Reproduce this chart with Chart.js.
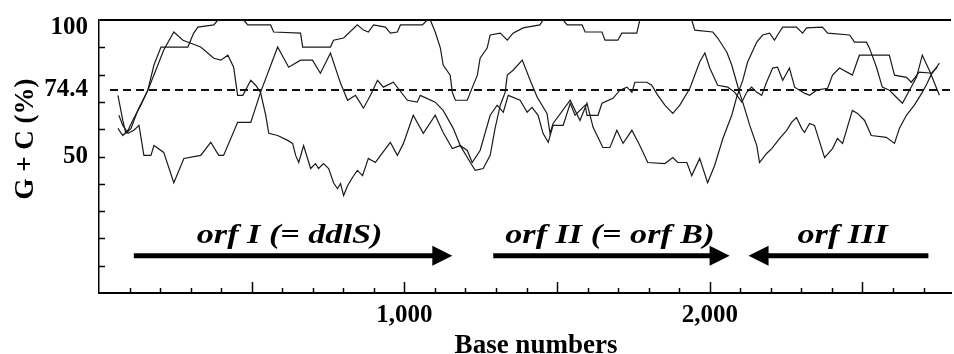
<!DOCTYPE html>
<html><head><meta charset="utf-8">
<script src="https://cdn.jsdelivr.net/npm/chart.js@4.4.1/dist/chart.umd.min.js"></script>
<style>html,body{margin:0;padding:0;background:#fff;}#wrap{width:954px;height:354px;}</style>
</head><body><div id="wrap"><canvas id="c" width="954" height="354"></canvas></div>
<script>
// ---- data (base position, G+C %) ----
const pos1 = [62,78,95,114,137,160,180,203,291,310,324,376,389,474,487,562,572,660,667,758,768,801,846,866,882,899,938,954,977,987,1059,1075,1085,1101,1118,1127,1150,1157,1167,1206,1216,1239,1248,1271,1281,1314,1337,1356,1389,1402,1444,1454,1520,1533,1582,1592,1647,1657,1699,1712,1761,1771,1941,1951,2010,2026,2056,2072,2088,2098,2108,2131,2154,2163,2186,2203,2229,2252,2268,2284,2301,2310,2327,2343,2376,2402,2418,2435,2467,2484,2507,2529,2578,2605,2621,2644,2670,2696,2712,2729,2745];
const gc1 = [60.3,57.7,59.6,64.0,68.8,74.3,83.5,90.1,90.1,95.2,97.4,98.2,100,100,98.2,98.2,95.6,95.2,90.1,90.1,92.6,93.4,98.2,96.3,95.6,98.2,97.4,95.2,95.6,98.2,98.2,100,100,95.6,89.7,83.5,79.8,73.5,70.6,70.6,73.5,79.8,86.0,89.7,94.5,95.2,92.6,95.2,97.1,97.4,98.2,100,100,98.2,98.2,95.6,95.6,92.6,92.6,95.2,95.2,100,100,96.3,95.6,93.4,88.2,83.5,77.2,73.2,69.9,61.4,54.0,47.8,51.1,52.9,56.6,59.6,62.5,64.3,60.3,58.8,62.1,61.4,49.6,52.9,56.6,54.8,66.9,65.8,63.2,57.7,57.0,54.8,60.3,65.1,68.8,73.5,76.8,80.9,82.7];

const pos2 = [62,78,88,105,127,160,186,212,245,275,301,333,376,399,422,441,454,471,497,513,529,546,556,585,618,634,644,654,670,693,709,719,735,752,768,781,791,801,814,830,846,863,882,905,922,954,977,997,1029,1062,1101,1127,1157,1183,1216,1232,1258,1281,1297,1314,1330,1337,1356,1386,1412,1435,1467,1477,1487,1543,1575,1598,1618,1650,1673,1696,1716,1745,1771,1797,1853,1879,1895,1925,1941,1967,1993,2016,2043,2072,2088,2108,2124,2154,2173,2196,2212,2222,2239,2284,2304,2317,2369,2386,2458,2474,2513,2523,2546,2565,2588,2611,2631,2654,2677,2696,2719,2752];
const gc2 = [72.4,63.2,58.5,60.3,66.9,74.3,81.6,89.0,95.6,92.6,91.5,90.1,86.0,85.3,87.1,82.7,72.4,72.4,77.9,76.1,73.5,65.1,58.5,57.7,55.9,54.8,50.4,47.8,54.0,45.6,47.4,45.6,47.4,45.6,40.4,38.2,40.1,35.7,39.3,42.3,44.9,43.0,49.3,47.8,50.4,55.2,50.4,54.8,65.1,58.5,65.1,58.8,52.9,54.0,47.8,44.9,45.6,50.4,60.3,68.8,73.5,79.8,81.6,85.3,77.9,71.7,65.8,58.5,62.1,70.6,63.2,69.5,60.7,53.3,53.3,59.6,54.8,59.6,54.0,47.8,47.4,49.6,47.8,47.8,43.0,49.3,40.4,46.7,56.6,65.1,71.7,77.9,84.6,91.9,94.5,95.2,92.6,94.5,97.4,97.4,95.2,97.1,97.4,95.2,94.5,91.9,91.9,89.7,82.7,75.4,74.3,71.7,69.5,74.3,79.0,87.1,81.6,72.4];

const pos3 = [65,78,95,114,131,147,170,180,212,245,278,333,366,392,408,454,497,529,585,621,660,699,725,758,791,814,840,866,889,912,931,964,1010,1042,1052,1101,1127,1160,1183,1206,1222,1248,1281,1304,1324,1340,1379,1402,1418,1438,1454,1471,1487,1520,1543,1559,1592,1598,1634,1647,1683,1706,1729,1745,1755,1794,1810,1830,1853,1879,1902,1935,1967,1984,2000,2026,2059,2082,2105,2121,2137,2154,2170,2186,2206,2222,2239,2261,2278,2310,2327,2350,2386,2402,2425,2467,2490,2588,2605,2644,2660,2686,2729,2752];
const gc3 = [65.1,61.4,58.5,59.6,61.4,50.4,50.4,54.0,51.5,40.4,49.3,50.4,55.2,50.4,50.4,62.5,62.5,73.5,90.1,82.7,85.3,85.3,80.5,87.9,76.8,70.6,72.4,67.7,72.4,77.9,75.4,77.2,70.6,69.9,72.4,69.9,66.9,60.3,54.0,52.2,47.8,52.2,65.1,68.8,66.2,72.4,70.6,66.2,68.0,65.1,58.5,55.2,61.4,61.4,69.5,65.1,68.8,65.1,65.1,69.5,71.3,74.3,75.4,73.5,77.2,77.2,76.1,72.4,68.8,65.8,68.8,75.0,84.6,87.9,82.4,76.1,75.4,73.5,69.9,73.5,75.4,73.5,72.4,77.2,82.4,82.7,77.9,82.4,75.4,73.2,72.4,74.3,75.0,79.8,82.4,79.8,87.1,87.1,79.8,79.0,77.2,80.9,80.5,84.2];

const meanGC = 74.4;
const meanRange = [36, 2790];
const yTickLabels = [50, 74.4, 100];
const xTickLabels = [1000, 2000];
const orfNames = ['orf I (= ddlS)', 'orf II (= orf B)', 'orf III'];
const orfStart = [114, 1291, 2716];
const orfEnd = [1157, 2065, 2127];
const orfLabelPos = [624, 1673, 2435];
const orfArrowGC = 13.6;
const orfLabelGC = 18.4;
const yTitle = 'G + C (%)';
const xTitle = 'Base numbers';

const toXY = (p, g) => p.map((v, i) => ({x: v, y: g[i]}));
const SERIF = '"Liberation Serif", "Times New Roman", serif';

const overlay = {
  id: 'overlay',
  beforeDraw(chart) {
    // the top label (100) sits just below the top line, as in the reference
    try {
      const y = chart.scales.y;
      const items = y._computeLabelItems(chart.chartArea);
      items.forEach((it, i) => {
        if (y.ticks[i] && y.ticks[i].value === 100 && it.options && it.options.translation) {
          it.options.translation[1] += 8;
        }
      });
      y._labelItems = items;
    } catch (e) {}
  },
  afterDatasetsDraw(chart) {
    const {ctx, chartArea: a, scales: {x, y}} = chart;
    ctx.save();
    ctx.strokeStyle = '#000';
    ctx.fillStyle = '#000';
    ctx.lineWidth = 1.5;
    for (let v = 10; v < 100; v += 10) {
      const py = Math.round(y.getPixelForValue(v)) + 0.5;
      ctx.beginPath(); ctx.moveTo(a.left, py); ctx.lineTo(a.left + 6, py); ctx.stroke();
    }
    for (let b = 100; b < x.max; b += 100) {
      const px = Math.round(x.getPixelForValue(b)) + 0.5;
      const len = b % 500 === 0 ? 11 : 5;
      ctx.beginPath(); ctx.moveTo(px, a.bottom); ctx.lineTo(px, a.bottom - len); ctx.stroke();
    }
    // arrows
    const ay = y.getPixelForValue(orfArrowGC);
    for (let i = 0; i < orfStart.length; i++) {
      const x0 = x.getPixelForValue(orfStart[i]);
      const x1 = x.getPixelForValue(orfEnd[i]);
      const d = Math.sign(x1 - x0);
      const hl = 20, hh = 10;
      ctx.lineWidth = 5;
      ctx.beginPath(); ctx.moveTo(x0, ay); ctx.lineTo(x1 - d * hl + d, ay); ctx.stroke();
      ctx.beginPath(); ctx.moveTo(x1, ay); ctx.lineTo(x1 - d * hl, ay - hh); ctx.lineTo(x1 - d * hl, ay + hh); ctx.closePath(); ctx.fill();
    }
    // orf labels
    const ly = y.getPixelForValue(orfLabelGC);
    ctx.font = 'italic bold 28px ' + SERIF;
    ctx.textAlign = 'center';
    ctx.textBaseline = 'alphabetic';
    for (let i = 0; i < orfNames.length; i++) {
      ctx.save();
      ctx.translate(x.getPixelForValue(orfLabelPos[i]), ly);
      ctx.scale(1.22, 1);
      ctx.fillText(orfNames[i], 0, 0);
      ctx.restore();
    }
    // axis titles
    ctx.font = 'bold 27px ' + SERIF;
    ctx.textAlign = 'center';
    ctx.textBaseline = 'alphabetic';
    ctx.fillText(xTitle, 536, 353);
    ctx.save();
    ctx.translate(33, 139);
    ctx.rotate(-Math.PI / 2);
    ctx.fillText(yTitle, 0, 0);
    ctx.restore();
    ctx.restore();
  }
};

const lineStyle = {borderColor: '#1a1a1a', borderWidth: 1.2, pointRadius: 0, tension: 0, fill: false};

new Chart(document.getElementById('c'), {
  type: 'line',
  data: {
    datasets: [
      Object.assign({label: 'frame 1', data: toXY(pos1, gc1)}, lineStyle),
      Object.assign({label: 'frame 2', data: toXY(pos2, gc2)}, lineStyle),
      Object.assign({label: 'frame 3', data: toXY(pos3, gc3)}, lineStyle),
      {label: 'mean', data: meanRange.map(v => ({x: v, y: meanGC})), borderColor: '#111', borderWidth: 2, borderDash: [8, 5], pointRadius: 0}
    ]
  },
  options: {
    responsive: false,
    animation: false,
    devicePixelRatio: 1,
    layout: {padding: {top: 20, right: 3, left: 0, bottom: 0}},
    plugins: {legend: {display: false}, tooltip: {enabled: false}},
    scales: {
      x: {
        type: 'linear', min: 0, max: 2790,
        afterFit(s) { s.height = 61; s.paddingLeft = 0; s.paddingRight = 0; },
        afterBuildTicks(s) { s.ticks = xTickLabels.map(v => ({value: v})); },
        ticks: {callback: v => v.toLocaleString('en-US'), font: {family: SERIF, size: 25, weight: 'bold'}, color: '#000', padding: 8, maxRotation: 0, autoSkip: false},
        grid: {drawTicks: false, color: 'rgba(0,0,0,0)'},
        border: {display: true, color: '#000', width: 2}
      },
      y: {
        min: 0, max: 100,
        afterFit(s) { s.width = 99; s.paddingTop = 0; s.paddingBottom = 0; },
        afterBuildTicks(s) { s.ticks = yTickLabels.map(v => ({value: v})); },
        ticks: {callback: v => String(v), font: {family: SERIF, size: 25, weight: 'bold'}, color: '#000', padding: 11, autoSkip: false},
        grid: {drawTicks: false, color: c => (c.tick && c.tick.value === 100) ? '#000' : 'rgba(0,0,0,0)', lineWidth: 2},
        border: {display: true, color: '#000', width: 1.5}
      }
    }
  },
  plugins: [overlay]
});
</script>
</body></html>
